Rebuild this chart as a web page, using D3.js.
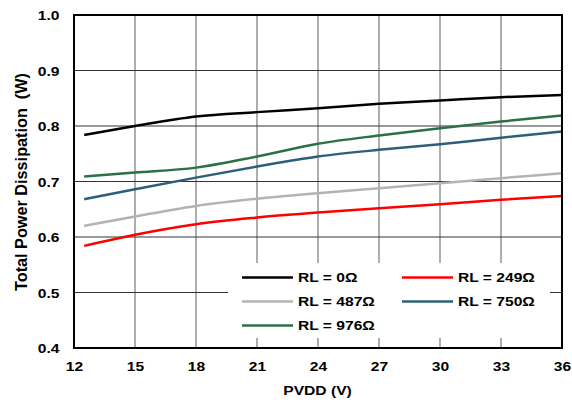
<!DOCTYPE html>
<html><head><meta charset="utf-8">
<script src="https://cdn.jsdelivr.net/npm/d3@7"></script>
<style>
html,body{margin:0;padding:0;background:#fff;}
text{font-family:"Liberation Sans",Arial,sans-serif;font-weight:bold;fill:#000;}
</style></head>
<body><svg id="c" width="572" height="404"></svg>
<script>
const pvdd = [12.5, 15, 18, 21, 24, 27, 30, 33, 36];
const rl0   = [0.784, 0.800, 0.817, 0.825, 0.832, 0.840, 0.846, 0.852, 0.856];
const rl249 = [0.584, 0.604, 0.623, 0.635, 0.644, 0.652, 0.659, 0.667, 0.674];
const rl487 = [0.620, 0.637, 0.656, 0.669, 0.679, 0.688, 0.697, 0.706, 0.715];
const rl750 = [0.668, 0.686, 0.707, 0.727, 0.745, 0.757, 0.767, 0.779, 0.790];
const rl976 = [0.709, 0.716, 0.725, 0.745, 0.768, 0.783, 0.796, 0.808, 0.819];
const seriesNames = ["RL = 0Ω", "RL = 249Ω", "RL = 487Ω", "RL = 750Ω", "RL = 976Ω"];
const seriesColors = ["#000000", "#ff0000", "#b3b3b3", "#2e5f7a", "#2a7048"];
const xTicks = [12, 15, 18, 21, 24, 27, 30, 33, 36];
const yTicks = [0.4, 0.5, 0.6, 0.7, 0.8, 0.9, 1.0];

const series = [rl0, rl249, rl487, rl750, rl976];
const svg = d3.select("#c");
const L = 74, R = 562, T = 15, B = 348;
const FS = 12.5, SX = 1.25;
const x = d3.scaleLinear().domain([12, 36]).range([L, R]);
const y = d3.scaleLinear().domain([0.4, 1.0]).range([B, T]);

// grid
svg.append("g").selectAll("line").data(xTicks).join("line")
  .attr("x1", d => x(d)).attr("x2", d => x(d)).attr("y1", T).attr("y2", B)
  .attr("stroke", "#777").attr("stroke-width", 1.2);
svg.append("g").selectAll("line").data(yTicks).join("line")
  .attr("x1", L).attr("x2", R).attr("y1", d => y(d)).attr("y2", d => y(d))
  .attr("stroke", "#333").attr("stroke-width", 1);

// legend background
const lg = svg.append("g");
lg.append("rect").attr("x", 228).attr("y", 263).attr("width", 322).attr("height", 75).attr("fill", "#fff");

// lines
const line = d3.line().x((d, i) => x(pvdd[i])).y(d => y(d)).curve(d3.curveMonotoneX);
svg.append("g").selectAll("path").data(series).join("path")
  .attr("d", d => line(d)).attr("fill", "none")
  .attr("stroke", (d, i) => seriesColors[i]).attr("stroke-width", 2.5);

// border
svg.append("rect").attr("x", L).attr("y", T).attr("width", R - L).attr("height", B - T)
  .attr("fill", "none").attr("stroke", "#000").attr("stroke-width", 2);

// axes
const xa = svg.append("g").attr("transform", `translate(0,371)`)
  .call(d3.axisBottom(x).tickValues(xTicks).tickSize(0).tickFormat(d3.format("d")));
xa.select(".domain").remove();
xa.selectAll("text").attr("font-size", FS).attr("y", 0).attr("dy", 0)
  .attr("transform", `scale(${SX},1)`);
const ya = svg.append("g").attr("transform", `translate(59.5,0)`)
  .call(d3.axisLeft(y).tickValues(yTicks).tickSize(0).tickFormat(d3.format(".1f")));
ya.select(".domain").remove();
ya.selectAll("text").attr("font-size", FS).attr("x", 0).attr("dy", "0.36em")
  .attr("transform", `scale(${SX},1)`);
svg.selectAll(".tick text").attr("fill", "#000");

svg.append("text").attr("transform", `translate(317.5,395) scale(${SX},1)`).attr("text-anchor", "middle")
  .attr("font-size", FS).text("PVDD (V)");
svg.append("text").attr("transform", `translate(27,182) scale(${SX},1) rotate(-90)`).attr("text-anchor", "middle")
  .attr("font-size", FS).attr("xml:space", "preserve")
  .attr("textLength", 218).attr("lengthAdjust", "spacingAndGlyphs")
  .text("Total Power Dissipation  (W)");

// legend items
const pos = [[242, 277.5], [402, 277.5], [242, 301.5], [402, 301.5], [242, 325.5]];
const items = lg.selectAll("g.it").data(seriesNames).join("g").attr("class", "it")
  .attr("transform", (d, i) => `translate(${pos[i][0]},${pos[i][1]})`);
items.append("line").attr("x1", 0).attr("x2", 51).attr("y1", 0).attr("y2", 0)
  .attr("stroke", (d, i) => seriesColors[i]).attr("stroke-width", 2.5);
items.append("text").attr("transform", `translate(56,0) scale(${SX},1)`).attr("dy", "0.36em")
  .attr("font-size", FS).text(d => d);
</script></body></html>
